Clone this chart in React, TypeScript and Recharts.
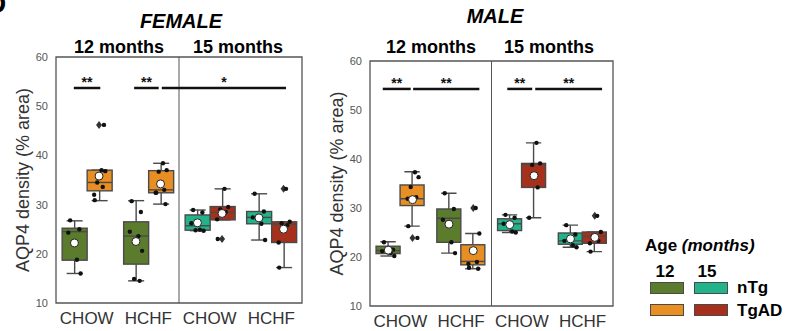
import React from "react";
import {
  ComposedChart,
  Bar,
  Scatter,
  XAxis,
  YAxis,
  ReferenceLine,
  ReferenceArea,
} from "recharts";

// groups along the x axis
const CATEGORIES = ["CHOW", "HCHF", "CHOW", "HCHF"];
const AGES = [12, 12, 15, 15];
const Y_TICKS = [10, 20, 30, 40, 50, 60];

// box stats per group: [whisker low, q1, median, q3, whisker high]
const femaleNtgBox = [
  [16.0, 18.7, 24.5, 25.2, 26.7],
  [14.5, 17.9, 23.6, 26.5, 30.8],
  [24.7, 24.8, 25.7, 27.9, 28.9],
  [22.8, 26.1, 27.4, 28.6, 32.2],
];
const femaleTgadBox = [
  [30.8, 32.8, 34.5, 37.0, 37.0],
  [30.1, 32.4, 33.0, 36.9, 38.4],
  [26.9, 26.9, 28.4, 29.6, 33.2],
  [17.2, 22.3, 26.0, 26.5, 26.5],
];
const femaleNtgMean = [22.2, 22.5, 26.3, 27.3];
const femaleTgadMean = [35.8, 34.2, 28.2, 25.0];
const femaleTgadFliers = [[46.2], [], [23.0], [33.2]];
const femaleNtgPoints = [
  [26.8, 25.0, 24.3, 18.8, 16.0],
  [30.7, 28.5, 24.5, 23.6, 20.6, 14.9, 14.5],
  [28.9, 28.4, 26.2, 24.9, 24.7, 24.8],
  [32.2, 28.6, 27.4, 26.1, 22.8],
];
const femaleTgadPoints = [
  [37.0, 36.8, 34.5, 33.6, 32.0, 30.9, 46.2],
  [38.4, 37.0, 36.7, 33.0, 32.4, 32.4, 30.1],
  [33.2, 29.5, 29.0, 28.5, 27.0, 23.0],
  [33.2, 26.5, 26.2, 25.8, 22.3, 17.2],
];

const maleNtgBox = [
  [20.2, 20.7, 21.3, 22.2, 23.1],
  [20.8, 23.0, 27.9, 29.8, 33.0],
  [25.0, 25.4, 26.8, 27.8, 28.6],
  [22.0, 22.6, 23.3, 24.9, 26.5],
];
const maleTgadBox = [
  [26.3, 30.5, 31.9, 34.7, 37.4],
  [17.6, 18.4, 19.1, 22.5, 24.8],
  [28.0, 34.2, 38.9, 39.1, 43.3],
  [21.1, 22.8, 24.2, 25.1, 25.1],
];
const maleNtgMean = [21.4, 26.7, 26.6, 23.7];
const maleTgadMean = [31.7, 21.3, 36.6, 24.0];
const maleTgadFliers = [[23.9], [30.0], [], [28.4]];
const maleNtgPoints = [
  [23.0, 21.5, 21.2, 20.8, 20.2],
  [33.0, 29.8, 27.6, 23.0, 20.8],
  [28.6, 28.0, 26.8, 25.2, 25.0],
  [26.5, 24.6, 23.3, 22.4, 22.0],
];
const maleTgadPoints = [
  [37.3, 36.3, 34.3, 32.2, 31.9, 26.3, 23.9],
  [30.0, 24.8, 21.5, 19.0, 18.6, 17.8, 17.6],
  [43.3, 39.1, 38.8, 34.2, 28.0],
  [28.4, 25.1, 24.3, 23.3, 22.8, 21.1],
];

// significance brackets (x in group units, 0..4)
const femaleSigFrom = [0.29, 1.27, 1.72];
const femaleSigTo = [0.72, 1.67, 3.74];
const femaleSigText = ["**", "**", "*"];
const femaleSigY = 53.7;
const maleSigFrom = [0.21, 0.71, 2.26, 2.72];
const maleSigTo = [0.67, 1.8, 2.67, 3.82];
const maleSigText = ["**", "**", "**", "**"];
const maleSigY = 54.3;

const COLORS = {
  ntg12: "#5b7c2d",
  ntg15: "#22b38b",
  tgad12: "#e88e22",
  tgad15: "#a6301c",
};
const EDGE = "#4a4a4a";
const FONT = '"Liberation Sans", Arial, Helvetica, sans-serif';
const JITTER = [-0.07, 0.08, -0.1, 0.04, 0.1, -0.03, 0.06, -0.08];
const HALF = 0.2;

function makeBoxShape(key: "ntgBox" | "tgadBox") {
  return (props: any) => {
    const { x, y, width, height, payload } = props;
    const stats = payload && payload[key];
    if (!stats || !isFinite(y) || !isFinite(height)) return <g />;
    const [lo, q1, med, q3, hi] = stats;
    const top = Math.min(y, y + height);
    const h = Math.abs(height);
    const k = h / (q3 - q1);
    const py = (v: number) => top + (q3 - v) * k;
    const cx = x + width / 2;
    const cap = width * 0.32;
    const fill =
      key === "ntgBox"
        ? payload.age === 12
          ? COLORS.ntg12
          : COLORS.ntg15
        : payload.age === 12
        ? COLORS.tgad12
        : COLORS.tgad15;
    return (
      <g>
        <line x1={cx} x2={cx} y1={py(hi)} y2={py(q3)} stroke={EDGE} strokeWidth={1.4} />
        <line x1={cx} x2={cx} y1={py(q1)} y2={py(lo)} stroke={EDGE} strokeWidth={1.4} />
        <line x1={cx - cap} x2={cx + cap} y1={py(hi)} y2={py(hi)} stroke={EDGE} strokeWidth={1.4} />
        <line x1={cx - cap} x2={cx + cap} y1={py(lo)} y2={py(lo)} stroke={EDGE} strokeWidth={1.4} />
        <rect x={x} y={top} width={width} height={h} fill={fill} stroke={EDGE} strokeWidth={1.4} />
        <line x1={x} x2={x + width} y1={py(med)} y2={py(med)} stroke={EDGE} strokeWidth={1.4} />
      </g>
    );
  };
}

function buildPoints(ntg: number[][], tgad: number[][]) {
  const out: { x: number; y: number }[] = [];
  ntg.forEach((vals, i) =>
    vals.forEach((v, j) => out.push({ x: i + 0.5 - HALF + JITTER[j % JITTER.length], y: v }))
  );
  tgad.forEach((vals, i) =>
    vals.forEach((v, j) => out.push({ x: i + 0.5 + HALF + JITTER[(j + 3) % JITTER.length], y: v }))
  );
  return out;
}

function buildMeans(ntg: number[], tgad: number[]) {
  return [
    ...ntg.map((v, i) => ({ x: i + 0.5 - HALF, y: v })),
    ...tgad.map((v, i) => ({ x: i + 0.5 + HALF, y: v })),
  ];
}

function buildFliers(tgad: number[][]) {
  const out: { x: number; y: number }[] = [];
  tgad.forEach((vals, i) => vals.forEach((v) => out.push({ x: i + 0.5 + HALF, y: v })));
  return out;
}

const dot = (p: any) => <circle cx={p.cx} cy={p.cy} r={2.2} fill="#111" />;
const meanDot = (p: any) => (
  <circle cx={p.cx} cy={p.cy} r={4} fill="#fff" stroke="#222" strokeWidth={1} />
);
const diamond = (p: any) => (
  <path
    d={`M${p.cx},${p.cy - 4} L${p.cx + 3},${p.cy} L${p.cx},${p.cy + 4} L${p.cx - 3},${p.cy} Z`}
    fill="#333"
  />
);

interface PanelProps {
  ntgBox: number[][];
  tgadBox: number[][];
  ntgMean: number[];
  tgadMean: number[];
  tgadFliers: number[][];
  ntgPoints: number[][];
  tgadPoints: number[][];
  sigFrom: number[];
  sigTo: number[];
  sigText: string[];
  sigY: number;
  width: number;
  top: number;
  bottom: number;
  right: number;
}

function Panel(p: PanelProps) {
  const rows = CATEGORIES.map((c, i) => ({
    key: `${AGES[i]}|${c}`,
    age: AGES[i],
    ntgBox: p.ntgBox[i],
    tgadBox: p.tgadBox[i],
    ntgRange: [p.ntgBox[i][1], p.ntgBox[i][3]],
    tgadRange: [p.tgadBox[i][1], p.tgadBox[i][3]],
  }));
  const points = buildPoints(p.ntgPoints, p.tgadPoints);
  const means = buildMeans(p.ntgMean, p.tgadMean);
  const fliers = buildFliers(p.tgadFliers);

  return (
    <ComposedChart
      width={p.width}
      height={331}
      data={rows}
      margin={{ top: p.top, right: p.right, bottom: 0, left: 0 }}
      barCategoryGap="10%"
      barGap={0}
    >
      <XAxis
        xAxisId="cat"
        dataKey="key"
        interval={0}
        tickFormatter={(k: string) => String(k).split("|")[1]}
        tickLine={false}
        axisLine={false}
        tick={{ fill: "#333", fontSize: 17 }}
        tickMargin={3}
        height={p.bottom}
      />
      <XAxis xAxisId="num" type="number" dataKey="x" domain={[0, 4]} hide allowDataOverflow />
      <YAxis
        type="number"
        domain={[10, 60]}
        ticks={Y_TICKS}
        allowDataOverflow
        width={56}
        axisLine={false}
        tickLine={false}
        tick={{ fill: "#555", fontSize: 11 }}
        label={{
          content: (lp: any) => {
            const vb = lp.viewBox || { x: 0, y: p.top, width: 56, height: 331 - p.top - p.bottom };
            const cx = vb.x + 23;
            const cy = vb.y + vb.height / 2;
            return (
              <text
                x={cx}
                y={cy}
                transform={`rotate(-90, ${cx}, ${cy})`}
                textAnchor="middle"
                dominantBaseline="central"
                fill="#333"
                fontSize={18}
              >
                AQP4 density (% area)
              </text>
            );
          },
        }}
      />
      <Bar
        xAxisId="cat"
        dataKey="ntgRange"
        shape={makeBoxShape("ntgBox")}
        isAnimationActive={false}
      />
      <Bar
        xAxisId="cat"
        dataKey="tgadRange"
        shape={makeBoxShape("tgadBox")}
        isAnimationActive={false}
      />
      <Scatter xAxisId="num" data={fliers} dataKey="y" shape={diamond} isAnimationActive={false} />
      <Scatter xAxisId="num" data={points} dataKey="y" shape={dot} isAnimationActive={false} />
      <Scatter xAxisId="num" data={means} dataKey="y" shape={meanDot} isAnimationActive={false} />
      <ReferenceLine xAxisId="num" x={2} stroke="#555" strokeWidth={1} />
      {p.sigFrom.map((f, i) => (
        <ReferenceLine
          key={i}
          xAxisId="num"
          segment={[
            { x: f, y: p.sigY },
            { x: p.sigTo[i], y: p.sigY },
          ]}
          stroke="#111"
          strokeWidth={2.5}
          label={{
            value: p.sigText[i],
            position: "top",
            offset: 1,
            fill: "#111",
            fontSize: 14,
            fontWeight: 700,
          }}
        />
      ))}
      <ReferenceArea
        xAxisId="num"
        x1={0}
        x2={4}
        y1={10}
        y2={60}
        fill="none"
        stroke="#555"
        strokeWidth={1.3}
      />
    </ComposedChart>
  );
}

const centered = (x: number, y: number, extra: React.CSSProperties = {}): React.CSSProperties => ({
  position: "absolute",
  left: x,
  top: y,
  transform: "translate(-50%, -50%)",
  whiteSpace: "nowrap",
  lineHeight: 1,
  ...extra,
});

export default function App() {
  return (
    <div
      style={{
        position: "absolute",
        left: 0,
        top: 0,
        width: 792,
        height: 331,
        overflow: "hidden",
        background: "#fff",
        fontFamily: FONT,
      }}
    >
      <div style={{ position: "absolute", left: -14, top: -12, fontSize: 28, fontWeight: 700, color: "#000" }}>
        D
      </div>

      <div style={{ position: "absolute", left: 0, top: 0 }}>
        <Panel
          ntgBox={femaleNtgBox}
          tgadBox={femaleTgadBox}
          ntgMean={femaleNtgMean}
          tgadMean={femaleTgadMean}
          tgadFliers={femaleTgadFliers}
          ntgPoints={femaleNtgPoints}
          tgadPoints={femaleTgadPoints}
          sigFrom={femaleSigFrom}
          sigTo={femaleSigTo}
          sigText={femaleSigText}
          sigY={femaleSigY}
          width={330}
          top={57}
          bottom={28}
          right={28}
        />
      </div>
      <div style={{ position: "absolute", left: 314, top: 0 }}>
        <Panel
          ntgBox={maleNtgBox}
          tgadBox={maleTgadBox}
          ntgMean={maleNtgMean}
          tgadMean={maleTgadMean}
          tgadFliers={maleTgadFliers}
          ntgPoints={maleNtgPoints}
          tgadPoints={maleTgadPoints}
          sigFrom={maleSigFrom}
          sigTo={maleSigTo}
          sigText={maleSigText}
          sigY={maleSigY}
          width={316}
          top={61}
          bottom={25}
          right={17}
        />
      </div>

      <div style={centered(181, 21, { fontSize: 20, fontWeight: 700, fontStyle: "italic" })}>FEMALE</div>
      <div style={centered(119, 47, { fontSize: 18, fontWeight: 700 })}>12 months</div>
      <div style={centered(238, 47, { fontSize: 18, fontWeight: 700 })}>15 months</div>
      <div style={centered(495, 16, { fontSize: 20, fontWeight: 700, fontStyle: "italic" })}>MALE</div>
      <div style={centered(431, 47, { fontSize: 18, fontWeight: 700 })}>12 months</div>
      <div style={centered(549, 47, { fontSize: 18, fontWeight: 700 })}>15 months</div>

      {/* legend */}
      <div style={{ position: "absolute", left: 645, top: 237, fontSize: 17, fontWeight: 700, lineHeight: 1, whiteSpace: "nowrap" }}>
        Age <i>(months)</i>
      </div>
      <div style={centered(665, 271, { fontSize: 17, fontWeight: 700 })}>12</div>
      <div style={centered(707, 271, { fontSize: 17, fontWeight: 700 })}>15</div>
      {[
        { x: 650, y: 282, c: COLORS.ntg12 },
        { x: 694, y: 282, c: COLORS.ntg15 },
        { x: 650, y: 304, c: COLORS.tgad12 },
        { x: 694, y: 304, c: COLORS.tgad15 },
      ].map((s, i) => (
        <div
          key={i}
          style={{
            position: "absolute",
            left: s.x,
            top: s.y,
            width: 32,
            height: 10,
            background: s.c,
            border: `1px solid ${EDGE}`,
          }}
        />
      ))}
      <div style={{ position: "absolute", left: 737, top: 279, fontSize: 17, fontWeight: 700, lineHeight: 1 }}>nTg</div>
      <div style={{ position: "absolute", left: 737, top: 302, fontSize: 17, fontWeight: 700, lineHeight: 1 }}>TgAD</div>
    </div>
  );
}
